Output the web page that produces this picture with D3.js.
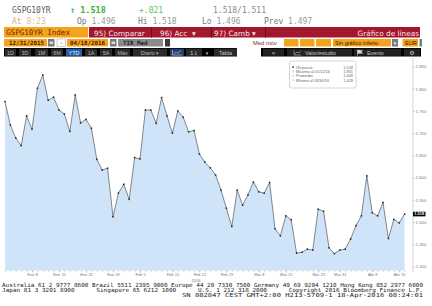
<!DOCTYPE html>
<html><head><meta charset="utf-8">
<script src="https://cdn.jsdelivr.net/npm/d3@7"></script>
<style>body{margin:0;background:#fff;} svg{display:block}</style>
</head><body><svg id="c" width="432" height="306"></svg>
<script>
// ---- data (GSPG10YR, daily closes 12/31/2015 .. 04/18/2016) ----
const values = [
  1.771,1.718,1.689,1.672,1.739,1.709,1.801,1.831,1.774,1.781,
  1.752,1.743,1.704,1.786,1.723,1.731,1.711,1.641,1.617,1.621,
  1.512,1.565,1.585,1.551,1.645,1.642,1.752,1.752,1.722,1.780,
  1.739,1.700,1.750,1.736,1.703,1.706,1.653,1.635,1.622,1.606,
  1.572,1.531,1.490,1.572,1.538,1.561,1.590,1.568,1.565,1.589,
  1.485,1.469,1.514,1.505,1.430,1.432,1.439,1.437,1.529,1.524,
  1.442,1.429,1.437,1.439,1.462,1.492,1.514,1.604,1.521,1.514,
  1.544,1.463,1.506,1.498,1.518
];
const tickIndex  = [5,10,15,20,25,31,36,41,47,52,58,62,68,73];
const tickLabels = ["Ene 8","Ene 15","Ene 22","Ene 29","Feb 5","Feb 15","Feb 22","Feb 29","Mar 8","Mar 15","Mar 23","Mar 31","Abr 8","Abr 15"];
const yTicks = [1.40,1.45,1.50,1.55,1.60,1.65,1.70,1.75,1.80,1.85];
const yMinor = [1.425,1.475,1.525,1.575,1.625,1.675,1.725,1.775,1.825];
const legendLabels = ["Últ precio","Máximo al 01/12/16","Promedio","Mínimo al 03/30/16"];
const legendValues = ["1.518","1.831","1.609","1.428"];
const lastValue = 1.518;

const svg = d3.select("#c");
const MONO = "'DejaVu Sans Mono', monospace";
const SANS = "'Liberation Sans', Arial, sans-serif";
const DSANS = "'DejaVu Sans', sans-serif";

function txt(x, yy, s, opt={}) {
  const t = svg.append("text").attr("x", x).attr("y", yy).text(s)
    .attr("font-family", opt.ff || MONO).attr("font-size", opt.fs || 8)
    .attr("fill", opt.fill || "#555");
  if (opt.anchor) t.attr("text-anchor", opt.anchor);
  if (opt.fw) t.attr("font-weight", opt.fw);
  if (opt.tl) t.attr("textLength", opt.tl).attr("lengthAdjust", "spacingAndGlyphs");
  t.style("white-space","pre");
  return t;
}
function box(x, yy, w, h, fill, stroke) {
  const r = svg.append("rect").attr("x", x).attr("y", yy).attr("width", w).attr("height", h).attr("fill", fill);
  if (stroke) r.attr("stroke", stroke).attr("stroke-width", 0.5);
  return r;
}

// ---- header row 1 & 2 ----
txt(12, 13, "GSPG10YR", {fs: 8, fill: "#5a5a5a"});
txt(70, 13, "↑ 1.518", {fs: 8.5, fill: "#34b534", fw: "bold"});
txt(139, 13, "+.021", {fs: 8, fill: "#5cc45c"});
txt(213, 13, "1.518/1.511", {fs: 8, fill: "#888"});

const r2 = [["At", " 8:23", 12, "#e9a96b", "#e9b98b"], ["Op", " 1.496", 77, "#777", "#999"],
            ["Hi", " 1.518", 138, "#777", "#999"], ["Lo", " 1.496", 202, "#777", "#999"],
            ["Prev", " 1.497", 264, "#777", "#999"]];
r2.forEach(d => {
  const t = txt(d[2], 23.5, "", {fs: 8});
  t.append("tspan").text(d[0]).attr("fill", d[3]);
  t.append("tspan").text(d[1]).attr("fill", d[4]);
});

// ---- row 3 ----
box(4, 27, 84, 10.5, "#f5a31c");
txt(6, 35.3, "GSPG10YR Index", {fs: 7.6, fill: "#6a2800"});
box(89, 27, 331, 10.5, "#a3172e");
box(151, 27, 1, 10.5, "#6d0c1c");
box(211, 27, 1, 10.5, "#6d0c1c");
box(265, 27, 1, 10.5, "#6d0c1c");
txt(94, 35.5, "95) Comparar", {ff: DSANS, fs: 7.3, fill: "#f4e4e6"});
txt(160, 35.5, "96) Acc  ▾", {ff: DSANS, fs: 7.3, fill: "#f4e4e6"});
txt(214, 35.5, "97) Camb ▾", {ff: DSANS, fs: 7.3, fill: "#f4e4e6"});
txt(419, 35.5, "Gráfico de líneas", {ff: DSANS, fs: 7.3, fill: "#f4e4e6", anchor: "end"});

// ---- row 4 ----
box(4, 39, 43, 7.5, "#f5a31c");
txt(9, 45.2, "12/31/2015", {fs: 5.8, fill: "#4a1800", fw: "bold"});
box(48, 39, 6.5, 7.5, "#7a7a7a"); box(49.5, 41.5, 3.5, 2.5, "#dcdcdc");
box(57, 39, 8.5, 7.5, "#fff", "#999"); txt(61.2, 45, "-", {fs: 6, fill: "#333", anchor: "middle"});
box(67, 39, 41, 7.5, "#f5a31c");
txt(70, 45.2, "04/18/2016", {fs: 5.8, fill: "#4a1800", fw: "bold"});
box(110, 39, 6.5, 7.5, "#7a7a7a"); box(111.5, 41.5, 3.5, 2.5, "#dcdcdc");
box(118, 39, 45, 7.5, "#8a8a8a");
txt(123, 45.2, "TIR Med", {fs: 5.8, fill: "#1e1e1e", fw: "bold"});
box(165, 39, 5, 7.5, "#3a3a3a");
txt(253, 45.2, "Med móv", {ff: SANS, fs: 5.8, fill: "#8b1c1c"});
box(284, 39, 14.5, 7.5, "#f5a31c");
box(300, 39, 14.5, 7.5, "#f5a31c");
box(316, 39, 15, 7.5, "#f5a31c");
box(333, 39, 58, 7.5, "#f5a31c");
txt(335, 45.2, "Sin gráfico inferio", {ff: SANS, fs: 5.6, fill: "#3a1400"});
box(392, 39, 6, 7.5, "#7a7a7a");
txt(395, 45, "▾", {ff: DSANS, fs: 5, fill: "#fff", anchor: "middle"});
box(402.5, 39, 15.5, 7.5, "#f5a31c");
txt(405, 45.2, "EUR", {ff: SANS, fs: 5.6, fill: "#3a1400"});
box(419.5, 39, 2.5, 7.5, "#7a7a7a");

// ---- row 5 ----
box(4, 48, 233, 8.5, "#000");
box(261, 48, 160, 8.5, "#000");
const btns = [["1D", 5, 11], ["3D", 19, 12], ["1M", 35, 13], ["6M", 51, 12], ["YTD", 66, 16],
              ["1A", 85, 12], ["5A", 100, 12], ["Máx", 115, 15], ["Diario ▾", 133, 34]];
btns.forEach(b => {
  const sel = b[0] === "YTD";
  box(b[1], 48.7, b[2], 7.2, sel ? "#1f5fb0" : "#2b2b2b");
  txt(b[1] + b[2] / 2, 54.6, b[0], {ff: SANS, fs: 5.4, fill: sel ? "#e6eeff" : "#b8b8b8", anchor: "middle"});
});
box(170, 48.7, 14, 7.2, "#23406e");
svg.append("path").attr("d", "M172.5,55 L172.5,50 M172.5,55 L182,55 M173.5,54 L176,52 L178,53.2 L181,50.5")
  .attr("stroke", "#c8d8f0").attr("stroke-width", 0.6).attr("fill", "none");
box(186, 48.7, 16, 7.2, "#2b2b2b");
txt(194, 54.6, "1↓", {ff: DSANS, fs: 5.4, fill: "#c8c8c8", anchor: "middle"});
txt(207, 54.6, "▾", {ff: DSANS, fs: 5, fill: "#c8c8c8", anchor: "middle"});
box(214, 48.7, 23, 7.2, "#2b2b2b");
txt(225.5, 54.6, "Tabla", {ff: SANS, fs: 5.4, fill: "#c8c8c8", anchor: "middle"});
box(263, 48.7, 21, 7.2, "#222");
txt(273.5, 54.8, "«", {ff: DSANS, fs: 6.5, fill: "#c8c8c8", anchor: "middle"});
box(287, 48.7, 65, 7.2, "#222");
svg.append("path").attr("d", "M294,55 L294,50.5 M294,55 L301,55 M295,54 L297,52 L299,53 L301,51")
  .attr("stroke", "#c8c8c8").attr("stroke-width", 0.6).attr("fill", "none");
txt(305, 54.6, "Valor/estudio", {ff: SANS, fs: 5.4, fill: "#c8c8c8"});
box(354, 48.7, 47, 7.2, "#222");
svg.append("path").attr("d", "M357.5,55.5 L357.5,50 L362.5,50.8 L360.5,52 L362.5,53.2 L357.5,53.2")
  .attr("stroke", "#ddd").attr("stroke-width", 0.6).attr("fill", "#ddd");
txt(367, 54.6, "Evento", {ff: SANS, fs: 5.4, fill: "#c8c8c8"});
box(404, 48.7, 16, 7.2, "#222");
txt(412, 55, "⚙", {ff: DSANS, fs: 6, fill: "#c8c8c8", anchor: "middle"});

// ---- chart ----
const x = d3.scaleLinear().domain([0, values.length - 1]).range([5, 404.6]);
const y = d3.scaleLinear().domain([1.40, 1.85]).range([266.5, 66.5]);
const plotBottom = 270.5;

svg.append("path").datum(values)
  .attr("d", d3.area().x((d, i) => x(i)).y0(plotBottom).y1(d => y(d)))
  .attr("fill", "#cfe4f9");
svg.append("path").datum(values)
  .attr("d", d3.line().x((d, i) => x(i)).y(d => y(d)))
  .attr("fill", "none").attr("stroke", "#4a4a4a").attr("stroke-width", 0.65);
svg.append("g").selectAll("rect").data(values).join("rect")
  .attr("x", (d, i) => x(i) - 0.75).attr("y", d => y(d) - 0.75)
  .attr("width", 1.5).attr("height", 1.5).attr("fill", "#222");

// right axis
svg.append("line").attr("x1", 413).attr("x2", 413).attr("y1", 58).attr("y2", 272)
  .attr("stroke", "#aaa").attr("stroke-width", 0.5);
const ya = svg.append("g").attr("transform", "translate(413,0)")
  .call(d3.axisRight(y).tickValues(yTicks).tickSize(1.8).tickPadding(1).tickFormat(d3.format(".3f")));
ya.select(".domain").remove();
ya.selectAll("line").attr("stroke", "#999").attr("stroke-width", 0.5);
ya.selectAll("text").attr("font-family", SANS).attr("font-size", 4.2).attr("fill", "#777");
const ym = svg.append("g").attr("transform", "translate(413,0)")
  .call(d3.axisRight(y).tickValues(yMinor).tickSize(1).tickFormat(""));
ym.select(".domain").remove();
ym.selectAll("line").attr("stroke", "#aaa").attr("stroke-width", 0.4);

// last price tag
svg.append("rect").attr("x", 413).attr("y", y(lastValue) - 2.3).attr("width", 12.5).attr("height", 4.6).attr("fill", "#000");
txt(419.2, y(lastValue) + 1.4, d3.format(".3f")(lastValue), {ff: SANS, fs: 4, fill: "#fff", anchor: "middle", fw: "bold"});

// bottom axis
const xa = svg.append("g").attr("transform", `translate(0,${plotBottom})`)
  .call(d3.axisBottom(x).tickValues(d3.range(values.length)).tickSize(1.3).tickFormat(""));
xa.select(".domain").remove();
xa.selectAll("line").attr("stroke", "#999").attr("stroke-width", 0.5);
const xl = svg.append("g").attr("transform", `translate(0,${plotBottom})`)
  .call(d3.axisBottom(x).tickValues(tickIndex).tickSize(2).tickPadding(0.8).tickFormat((d, i) => tickLabels[i]));
xl.select(".domain").remove();
xl.selectAll("line").attr("stroke", "#999").attr("stroke-width", 0.5);
xl.selectAll("text").attr("font-family", SANS).attr("font-size", 4).attr("fill", "#777");
txt(196, 281.5, "2016", {ff: SANS, fs: 4, fill: "#777", anchor: "middle"});

// legend
svg.append("rect").attr("x", 289.5).attr("y", 61).attr("width", 66.5).attr("height", 27).attr("rx", 2)
  .attr("fill", "#fff").attr("stroke", "#bbb").attr("stroke-width", 0.6);
legendLabels.forEach((l, i) => {
  const yy = 68.8 + i * 4.3;
  svg.append("rect").attr("x", 292.3).attr("y", yy - 2.4).attr("width", 1.5).attr("height", 1.5)
    .attr("fill", i === 0 ? "#222" : "#ccc");
  txt(296, yy, l, {ff: SANS, fs: 3.9, fill: "#666"});
  txt(353, yy, legendValues[i], {ff: SANS, fs: 3.9, fill: "#666", anchor: "end"});
});

// footer
txt(2, 287, "Australia 61 2 9777 8600 Brazil 5511 2395 9000 Europe 44 20 7330 7500 Germany 49 69 9204 1210 Hong Kong 852 2977 6000", {fs: 5.6, fill: "#222", tl: 421});
txt(2, 292, "Japan 81 3 3201 8900      Singapore 65 6212 1000      U.S. 1 212 318 2000      Copyright 2016 Bloomberg Finance L.P.", {fs: 5.6, fill: "#222", tl: 421});
txt(182, 297, "SN 802847 CEST GMT+2:00 H213-5709-1 18-Apr-2016 08:24:01", {fs: 5.6, fill: "#222", tl: 241});
</script></body></html>
